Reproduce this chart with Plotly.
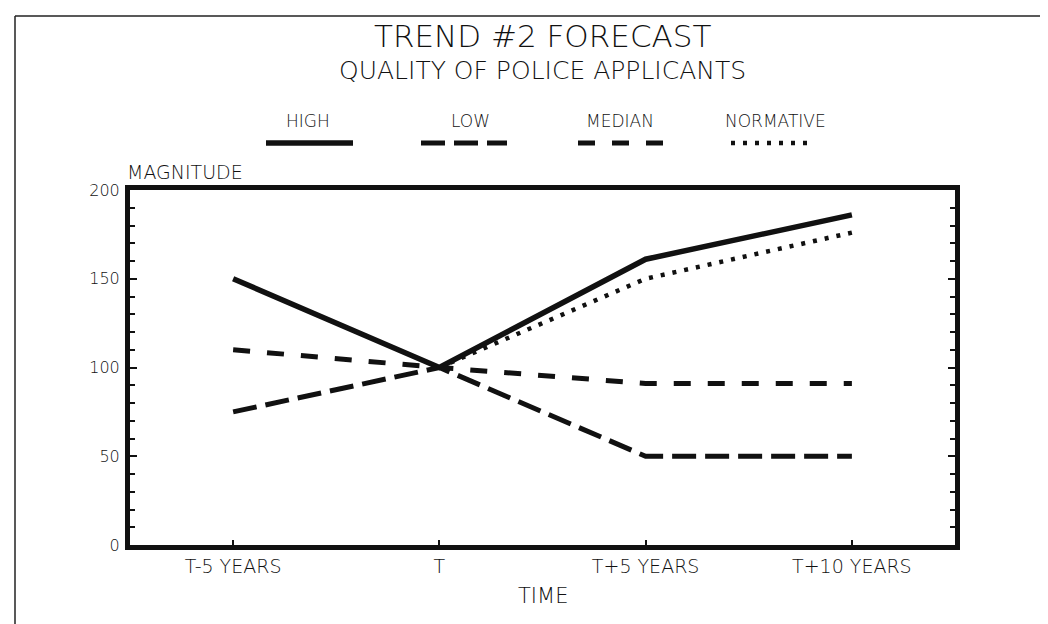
import plotly.graph_objects as go

# ---- data ----
categories = ["T-5 YEARS", "T", "T+5 YEARS", "T+10 YEARS"]
high = [150, 100, 161, 186]
low = [75, 100, 50, 50]
median = [110, 100, 91, 91]
normative = [None, 100, 150, 176]
series_names = ["HIGH", "LOW", "MEDIAN", "NORMATIVE"]
y_ticks = [0, 50, 100, 150, 200]

# ---- geometry (pixels) ----
W, H = 1048, 624
L, R, T, B = 122, 947, 182, 537


def px(x):
    return (x - L) / (R - L)


def py(y):
    return (B - y) / (B - T)


FONT = "DejaVu Sans"
WEIGHT = 300
INK = "#111111"

styles = {
    "HIGH": dict(width=5.5, dash="solid"),
    "LOW": dict(width=5, dash="24px,9px"),
    "MEDIAN": dict(width=5, dash="17px,17px"),
    "NORMATIVE": dict(width=4.5, dash="4px,8px"),
}
values = {"HIGH": high, "LOW": low, "MEDIAN": median, "NORMATIVE": normative}

fig = go.Figure()
for name in series_names:
    st = styles[name]
    fig.add_trace(go.Scatter(
        x=categories, y=values[name], mode="lines", name=name,
        line=dict(color=INK, width=st["width"], dash=st["dash"]),
        showlegend=False,
    ))

# custom legend (labels above line samples)
legend_pos = {
    "HIGH": (258, 345, 300),
    "LOW": (413, 499, 462),
    "MEDIAN": (570, 655, 612),
    "NORMATIVE": (723, 805, 767),
}
shapes = []
annotations = []
for name in series_names:
    x0, x1, xc = legend_pos[name]
    st = styles[name]
    shapes.append(dict(type="line", xref="paper", yref="paper",
                       x0=px(x0), x1=px(x1), y0=py(135), y1=py(135),
                       line=dict(color=INK, width=st["width"], dash=st["dash"])))
    annotations.append(dict(text=name, xref="paper", yref="paper",
                            x=px(xc), y=py(113), showarrow=False,
                            xanchor="center", yanchor="middle",
                            font=dict(family=FONT, size=17, color=INK, weight=WEIGHT)))

# outer frame (top and left edges)
shapes.append(dict(type="line", xref="paper", yref="paper",
                   x0=px(7), x1=px(W), y0=py(8), y1=py(8),
                   line=dict(color="#222", width=1.5)))
shapes.append(dict(type="line", xref="paper", yref="paper",
                   x0=px(7), x1=px(7), y0=py(8), y1=py(H),
                   line=dict(color="#222", width=1.5)))

annotations += [
    dict(text="TREND #2 FORECAST", xref="paper", yref="paper",
         x=px(534), y=py(28), showarrow=False, xanchor="center", yanchor="middle",
         font=dict(family=FONT, size=31, color=INK, weight=WEIGHT)),
    dict(text="QUALITY OF POLICE APPLICANTS", xref="paper", yref="paper",
         x=px(534), y=py(62), showarrow=False, xanchor="center", yanchor="middle",
         font=dict(family=FONT, size=25, color=INK, weight=WEIGHT)),
    dict(text="MAGNITUDE", xref="paper", yref="paper",
         x=px(117), y=py(164), showarrow=False, xanchor="left", yanchor="middle",
         font=dict(family=FONT, size=19, color=INK, weight=WEIGHT)),
    dict(text="TIME", xref="paper", yref="paper",
         x=px(535), y=py(588), showarrow=False, xanchor="center", yanchor="middle",
         font=dict(family=FONT, size=21, color=INK, weight=WEIGHT)),
]

fig.update_layout(
    width=W, height=H,
    margin=dict(l=L, r=W - R, t=T, b=H - B),
    paper_bgcolor="white", plot_bgcolor="white",
    shapes=shapes, annotations=annotations,
    font=dict(family=FONT, color=INK),
)
fig.update_xaxes(
    type="category", range=[-0.5, 3.5],
    showline=True, linewidth=5, linecolor=INK, mirror=True,
    ticks="inside", ticklen=5, tickwidth=2, tickcolor=INK,
    showgrid=False, zeroline=False,
    tickfont=dict(family=FONT, size=19, color=INK, weight=WEIGHT),
)
fig.update_yaxes(
    range=[0, 200], tickvals=y_ticks,
    showline=True, linewidth=5, linecolor=INK, mirror="allticks",
    ticks="inside", ticklen=7, tickwidth=2, tickcolor=INK,
    minor=dict(dtick=10, ticks="inside", ticklen=5, tickwidth=1.5, tickcolor=INK),
    showgrid=False, zeroline=False,
    tickfont=dict(family=FONT, size=16, color=INK, weight=WEIGHT),
    ticklabelstandoff=2,
)

fig.write_html("out.html")
